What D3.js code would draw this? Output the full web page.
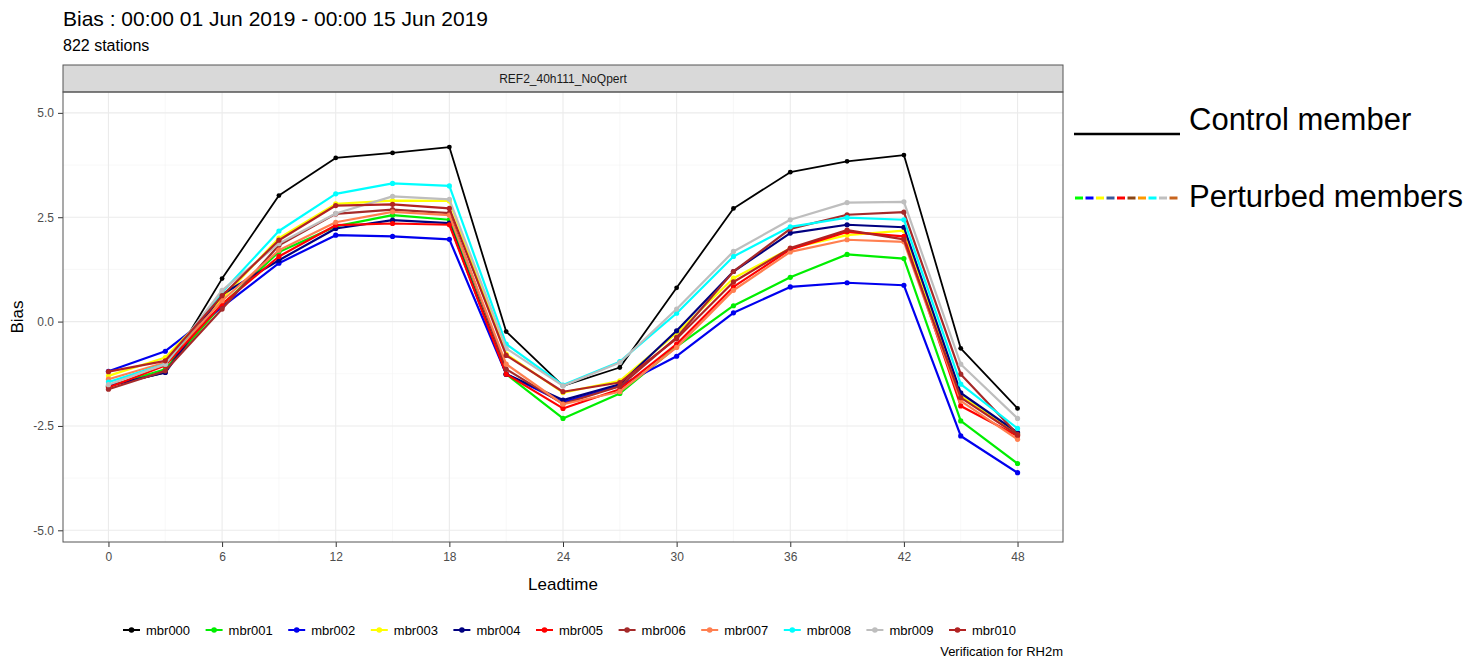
<!doctype html>
<html lang="en">
<head>
<meta charset="utf-8">
<title>Bias RH2m</title>
<script src="https://cdn.jsdelivr.net/npm/d3@7"></script>
<style>
    body { margin: 0; background: #fff; }
    svg { display: block; font-family: "Liberation Sans", Arial, sans-serif; }
    .axis path { display: none; }
    .axis line { stroke: #333; }
    .axis text { fill: #4d4d4d; font-size: 12px; font-family: "Liberation Sans", Arial, sans-serif; }
    .grid-major { stroke: #ebebeb; stroke-width: 1.1; }
    .grid-minor { stroke: #f4f4f4; stroke-width: 0.6; }
</style>
</head>
<body>
<svg></svg>
<script>
var leadtimes = [0, 3, 6, 9, 12, 15, 18, 21, 24, 27, 30, 33, 36, 39, 42, 45, 48];
var members = ["mbr000", "mbr001", "mbr002", "mbr003", "mbr004", "mbr005",
               "mbr006", "mbr007", "mbr008", "mbr009", "mbr010"];
var colours = ["#000000", "#00ee00", "#0000ee", "#ffff00", "#000080", "#ff0000",
               "#a52a2a", "#ff7f50", "#00ffff", "#bebebe", "#b22222"];

var mbr000 = [-1.54, -1.22, 1.03, 3.02, 3.92, 4.04, 4.18, -0.24, -1.54, -1.10, 0.81, 2.71, 3.58, 3.84, 3.99, -0.64, -2.08];
var mbr001 = [-1.55, -1.14, 0.40, 1.67, 2.28, 2.55, 2.44, -1.26, -2.32, -1.72, -0.60, 0.38, 1.06, 1.61, 1.51, -2.38, -3.40];
var mbr002 = [-1.19, -0.71, 0.35, 1.40, 2.07, 2.04, 1.97, -1.26, -1.93, -1.54, -0.83, 0.21, 0.83, 0.93, 0.87, -2.74, -3.62];
var mbr003 = [-1.30, -0.86, 0.55, 2.00, 2.82, 2.90, 2.89, -0.78, -1.70, -1.42, -0.28, 1.04, 1.75, 2.07, 2.18, -1.78, -2.68];
var mbr004 = [-1.54, -1.22, 0.65, 1.47, 2.23, 2.43, 2.36, -1.26, -1.88, -1.50, -0.22, 1.20, 2.12, 2.32, 2.26, -1.71, -2.66];
var mbr005 = [-1.58, -1.05, 0.42, 1.56, 2.31, 2.35, 2.32, -1.26, -2.08, -1.62, -0.54, 0.83, 1.73, 2.15, 2.04, -2.02, -2.74];
var mbr006 = [-1.62, -1.18, 0.30, 1.83, 2.58, 2.68, 2.60, -1.14, -1.97, -1.55, -0.38, 1.20, 2.22, 2.56, 2.62, -1.26, -2.70];
var mbr007 = [-1.38, -0.98, 0.50, 1.71, 2.38, 2.63, 2.55, -1.02, -1.98, -1.68, -0.62, 0.75, 1.67, 1.96, 1.91, -1.90, -2.82];
var mbr008 = [-1.45, -1.02, 0.70, 2.17, 3.06, 3.31, 3.25, -0.54, -1.52, -0.96, 0.20, 1.56, 2.27, 2.49, 2.44, -1.50, -2.56];
var mbr009 = [-1.51, -1.02, 0.75, 1.87, 2.59, 3.00, 2.93, -0.64, -1.54, -0.98, 0.30, 1.68, 2.44, 2.85, 2.87, -1.02, -2.32];
var mbr010 = [-1.20, -0.94, 0.62, 1.95, 2.78, 2.81, 2.71, -0.81, -1.68, -1.46, -0.41, 0.95, 1.76, 2.19, 1.97, -1.82, -2.72];
var seriesValues = [mbr000, mbr001, mbr002, mbr003, mbr004, mbr005, mbr006, mbr007, mbr008, mbr009, mbr010];

var xTicks = [0, 6, 12, 18, 24, 30, 36, 42, 48];
var xMinor = [3, 9, 15, 21, 27, 33, 39, 45];
var yTicks = [-5, -2.5, 0, 2.5, 5];
var yMinor = [-3.75, -1.25, 1.25, 3.75];
var perturbedKey = ["#00ff00", "#0000ff", "#ffff00", "#3a5a9a", "#ff0000", "#8b4513",
                    "#ff9900", "#00ffff", "#c0c0c0", "#c8641e"];

var width = 1476, height = 668;
var panelL = 63, panelR = 1063, panelT = 92, panelB = 542, stripT = 65;

var svg = d3.select('svg').attr('width', width).attr('height', height);
svg.append('rect').attr('width', width).attr('height', height).attr('fill', '#fff');

var x = d3.scaleLinear().domain([-2.4, 50.4]).range([panelL, panelR]);
var y = d3.scaleLinear().domain([-5.28, 5.5]).range([panelB, panelT]);

// titles
svg.append('text').attr('x', panelL).attr('y', 26)
    .attr('font-size', '21px').attr('fill', '#000')
    .text('Bias : 00:00 01 Jun 2019 - 00:00 15 Jun 2019');
svg.append('text').attr('x', panelL).attr('y', 51)
    .attr('font-size', '16px').attr('fill', '#000')
    .text('822 stations');

// grid
var grid = svg.append('g');
grid.selectAll('.xm').data(xMinor).enter().append('line').attr('class', 'grid-minor')
    .attr('x1', x).attr('x2', x).attr('y1', panelT).attr('y2', panelB);
grid.selectAll('.ym').data(yMinor).enter().append('line').attr('class', 'grid-minor')
    .attr('y1', y).attr('y2', y).attr('x1', panelL).attr('x2', panelR);
grid.selectAll('.xM').data(xTicks).enter().append('line').attr('class', 'grid-major')
    .attr('x1', x).attr('x2', x).attr('y1', panelT).attr('y2', panelB);
grid.selectAll('.yM').data(yTicks).enter().append('line').attr('class', 'grid-major')
    .attr('y1', y).attr('y2', y).attr('x1', panelL).attr('x2', panelR);

// strip
svg.append('rect').attr('x', panelL).attr('y', stripT).attr('width', panelR - panelL).attr('height', panelT - stripT)
    .attr('fill', '#d9d9d9').attr('stroke', '#555').attr('stroke-width', 1);
svg.append('text').attr('x', (panelL + panelR) / 2).attr('y', (stripT + panelT) / 2 + 4)
    .attr('text-anchor', 'middle').attr('font-size', '12px').attr('fill', '#1a1a1a')
    .text('REF2_40h111_NoQpert');

// axes
svg.append('g').attr('class', 'axis').attr('transform', 'translate(' + panelL + ',0)')
    .call(d3.axisLeft(y).tickValues(yTicks).tickSize(5).tickPadding(4)
        .tickFormat(function (d) { return d.toFixed(1); }));
svg.append('g').attr('class', 'axis').attr('transform', 'translate(0,' + panelB + ')')
    .call(d3.axisBottom(x).tickValues(xTicks).tickSize(5).tickPadding(5));

svg.append('text').attr('x', (panelL + panelR) / 2).attr('y', 590)
    .attr('text-anchor', 'middle').attr('font-size', '17px').attr('fill', '#000')
    .text('Leadtime');
svg.append('text').attr('transform', 'translate(23,' + ((panelT + panelB) / 2) + ') rotate(-90)')
    .attr('text-anchor', 'middle').attr('font-size', '17px').attr('fill', '#000')
    .text('Bias');

// lines
var line = d3.line()
    .x(function (d, i) { return x(leadtimes[i]); })
    .y(function (d) { return y(d); });

var series = svg.append('g').selectAll('g')
    .data(seriesValues)
    .enter()
    .append('g');
series.append('path')
    .attr('d', line)
    .attr('fill', 'none')
    .attr('stroke', function (d, i) { return colours[i]; })
    .attr('stroke-width', function (d, i) { return i === 0 ? 1.8 : 2.2; })
    .attr('stroke-linejoin', 'round');
series.each(function (vals, i) {
    d3.select(this).selectAll('circle')
        .data(vals)
        .enter()
        .append('circle')
        .attr('cx', function (d, j) { return x(leadtimes[j]); })
        .attr('cy', function (d) { return y(d); })
        .attr('r', i === 0 ? 2.4 : 2.6)
        .attr('fill', colours[i]);
});

// panel border
svg.append('rect').attr('x', panelL).attr('y', panelT).attr('width', panelR - panelL).attr('height', panelB - panelT)
    .attr('fill', 'none').attr('stroke', '#555').attr('stroke-width', 1);

// legend
var legend = svg.append('g').selectAll('g')
    .data(members)
    .enter()
    .append('g')
    .attr('transform', function (d, i) { return 'translate(' + (123 + i * 82.6) + ',630)'; });
legend.append('line').attr('x1', 0).attr('x2', 17).attr('y1', 0).attr('y2', 0)
    .attr('stroke', function (d, i) { return colours[i]; }).attr('stroke-width', 2);
legend.append('circle').attr('cx', 8.5).attr('cy', 0).attr('r', 2.8)
    .attr('fill', function (d, i) { return colours[i]; });
legend.append('text').attr('x', 23).attr('y', 0).attr('dy', '0.35em')
    .attr('font-size', '13px').attr('fill', '#000')
    .text(function (d) { return d; });

// caption
svg.append('text').attr('x', panelR).attr('y', 656).attr('text-anchor', 'end')
    .attr('font-size', '13px').attr('fill', '#000')
    .text('Verification for RH2m');

// side annotation
svg.append('line').attr('x1', 1074).attr('x2', 1180).attr('y1', 134).attr('y2', 134)
    .attr('stroke', '#000').attr('stroke-width', 2.5);
svg.append('text').attr('x', 1189).attr('y', 130)
    .attr('font-size', '31px').attr('fill', '#000').text('Control member');
svg.append('g').selectAll('line')
    .data(perturbedKey)
    .enter()
    .append('line')
    .attr('x1', function (d, i) { return 1075 + i * 10.5; })
    .attr('x2', function (d, i) { return 1075 + i * 10.5 + 8; })
    .attr('y1', 198).attr('y2', 198)
    .attr('stroke', function (d) { return d; })
    .attr('stroke-width', 3);
svg.append('text').attr('x', 1189).attr('y', 207)
    .attr('font-size', '31px').attr('fill', '#000').text('Perturbed members');
</script>
</body>
</html>
